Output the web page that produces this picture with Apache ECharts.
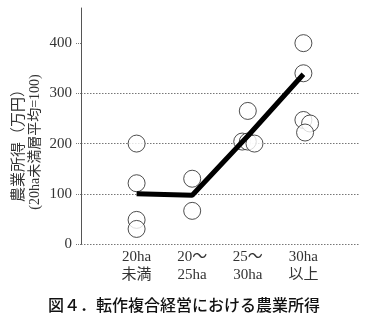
<!DOCTYPE html>
<html>
<head>
<meta charset="utf-8">
<script src="https://cdn.jsdelivr.net/npm/echarts@6/dist/echarts.min.js"></script>
<style>
  html, body { margin: 0; padding: 0; background: #fff; }
  #chart { width: 375px; height: 330px; }
</style>
</head>
<body>
<div id="chart"></div>
<script>
// Farm-size classes (x positions 1..4)
const categories = ['20ha\n未満', '20～\n25ha', '25～\n30ha', '30ha\n以上'];
// Class averages (thick line)
const lineValues = [100, 97, 215, 338];
// Individual farms: x position (class index, slightly spread) and income
const pointX = [1, 1, 1, 1, 2, 2, 3, 2.9, 3.0, 3.12, 4, 4, 4, 4.12, 4.03];
const pointY = [200, 121, 48, 30, 130, 66, 265, 204, 204, 200, 400, 340, 247, 240, 222];
// Y-axis tick values
const yTicks = [0, 100, 200, 300, 400];

const serif = '"Liberation Serif", "DejaVu Serif", "Noto Sans CJK JP", serif';
const gothic = '"Noto Sans CJK JP", sans-serif';

const chart = echarts.init(document.getElementById('chart'), null, { renderer: 'canvas' });

chart.setOption({
  animation: false,
  backgroundColor: '#fff',
  grid: { left: 81, right: 16, top: 8, bottom: 86 },
  xAxis: {
    type: 'value',
    min: 0,
    max: 5,
    interval: 1,
    axisLine: { show: false },
    axisTick: { show: false },
    splitLine: { show: false },
    axisLabel: {
      customValues: [1, 2, 3, 4],
      formatter: v => categories[Math.round(v) - 1] || '',
      fontFamily: serif,
      fontSize: 15,
      lineHeight: 18,
      color: '#333',
      margin: 4
    }
  },
  yAxis: {
    type: 'value',
    min: 0,
    max: 470,
    interval: 100,
    axisLine: { show: true, lineStyle: { color: '#555', width: 1 } },
    axisTick: { show: true, customValues: yTicks, length: 5, lineStyle: { color: '#777', type: 'dotted' } },
    axisLabel: {
      customValues: yTicks,
      fontFamily: serif,
      fontSize: 15,
      color: '#333',
      margin: 9
    },
    splitLine: {
      show: true,
      showMaxLine: false,
      lineStyle: { color: '#777', type: [1.5, 1.5], width: 1 }
    }
  },
  graphic: [
    {
      type: 'text',
      x: 17, y: 142,
      rotation: Math.PI / 2,
      style: {
        text: '農業所得（万円）',
        font: '15px ' + gothic,
        fill: '#333',
        align: 'center',
        verticalAlign: 'middle'
      }
    },
    {
      type: 'text',
      x: 35, y: 142,
      rotation: Math.PI / 2,
      style: {
        text: '(20ha未満層平均=100)',
        font: '14px ' + serif,
        fill: '#333',
        align: 'center',
        verticalAlign: 'middle'
      }
    },
    {
      type: 'text',
      x: 184, y: 305,
      style: {
        text: '図４．転作複合経営における農業所得',
        font: '500 16px ' + gothic,
        fill: '#111',
        align: 'center',
        verticalAlign: 'middle'
      }
    }
  ],
  series: [
    {
      type: 'scatter',
      z: 2,
      symbol: 'circle',
      symbolSize: 17,
      itemStyle: { color: '#fff', borderColor: '#222', borderWidth: 1 },
      data: pointX.map((x, i) => [x, pointY[i]])
    },
    {
      type: 'line',
      z: 3,
      symbol: 'none',
      lineStyle: { color: '#000', width: 5 },
      data: lineValues.map((v, i) => [i + 1, v])
    }
  ]
});
</script>
</body>
</html>
